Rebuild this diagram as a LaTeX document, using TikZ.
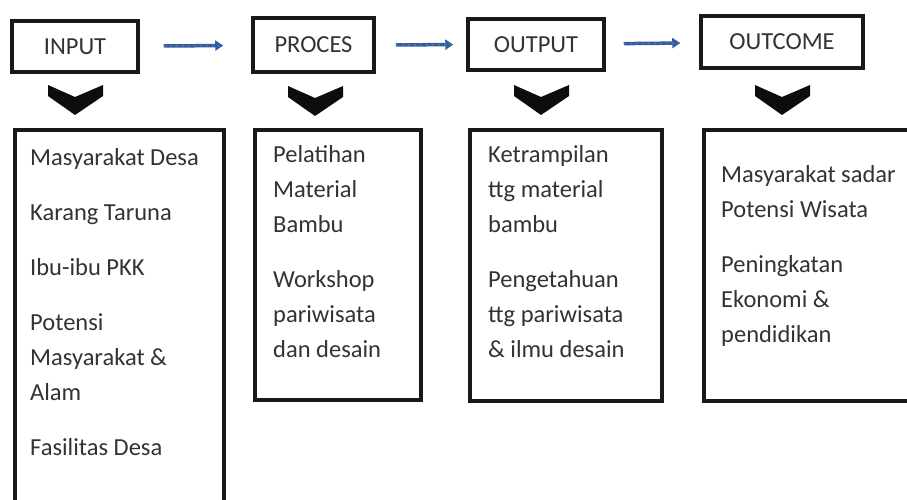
\documentclass[tikz,border=0pt]{standalone}
\usepackage{fontspec}
\setmainfont{Carlito}
\usepackage{xcolor}
\usetikzlibrary{arrows.meta,positioning}

\definecolor{flowblue}{HTML}{2F5DAA}

\begin{document}
\begin{tikzpicture}[
    x=1pt, y=-1pt,
    stage/.style={rectangle, draw=black!90, line width=3.5pt, fill=white, inner sep=0pt, font=\fontsize{24.5}{29}\selectfont, text=black!80},
    list/.style={rectangle, draw=black!90, line width=3.5pt, fill=white, anchor=north west, inner sep=0pt},
    item/.style={anchor=base west, inner sep=0pt, align=left, font=\fontsize{24.5}{35}\selectfont, text=black!80},
    flow/.style={draw=flowblue, line width=3.5pt, -{Triangle[length=8pt,width=10pt]},
        postaction={draw=black!55, arrows=-, line width=1.5pt, dash pattern=on 2pt off 4pt}},
    chev/.style={fill=black!95}
]
\useasboundingbox (0,0) rectangle (907,499);
\clip (0,0) rectangle (907,499);

% --- Stage headers ---
\node[stage, minimum width=126pt, minimum height=51pt] (in) at (75,46.5) {INPUT};
\node[stage, minimum width=121pt, minimum height=54pt] (pro) at (313.5,45) {PROCES};
\node[stage, minimum width=136pt, minimum height=51pt] (out) at (536,44.5) {OUTPUT};
\node[stage, minimum width=162pt, minimum height=52pt] (oc) at (782,42) {OUTCOME};

\draw[flow, shorten <=24pt, shorten >=28pt] (in) -- (pro);
\draw[flow, shorten <=20pt, shorten >=13pt] (pro) -- (out);
\draw[flow, shorten <=18pt, shorten >=19pt] (out) -- (oc);

% --- Chevrons ---
\fill[chev, shift={(75,85)}] (-27,0) -- (0,12) -- (28,0) -- (28,11) -- (0,30) -- (-27,11) -- cycle;
\fill[chev, shift={(315,86)}] (-27,0) -- (0,12) -- (28,0) -- (28,11) -- (0,30) -- (-27,11) -- cycle;
\fill[chev, shift={(541,85)}] (-27,0) -- (0,12) -- (28,0) -- (28,11) -- (0,30) -- (-27,11) -- cycle;
\fill[chev, shift={(782,85)}] (-27,0) -- (0,12) -- (28,0) -- (28,11) -- (0,30) -- (-27,11) -- cycle;

% --- Lists (text placed by the baseline of its last line) ---
\node[list, minimum width=209pt, minimum height=420pt] (l1) at (13,128) {};
\node[list, minimum width=166pt, minimum height=270pt] (l2) at (253,128) {};
\node[list, minimum width=192pt, minimum height=271pt] (l3) at (468,128) {};
\node[list, minimum width=240pt, minimum height=271pt] (l4) at (702,128) {};

\node[item] (t1) at (30,455) {Masyarakat Desa\\[20pt]Karang Taruna\\[20pt]Ibu-ibu PKK\\[20pt]Potensi\\Masyarakat \&\\Alam\\[20pt]Fasilitas Desa};
\node[item] (t2) at (273,357) {Pelatihan\\Material\\Bambu\\[20pt]Workshop\\pariwisata\\dan desain};
\node[item] (t3) at (488,357) {Ketrampilan\\ttg material\\bambu\\[20pt]Pengetahuan\\ttg pariwisata\\\& ilmu desain};
\node[item] (t4) at (721,342) {Masyarakat sadar\\Potensi Wisata\\[20pt]Peningkatan\\Ekonomi \&\\pendidikan};
\end{tikzpicture}
\end{document}
